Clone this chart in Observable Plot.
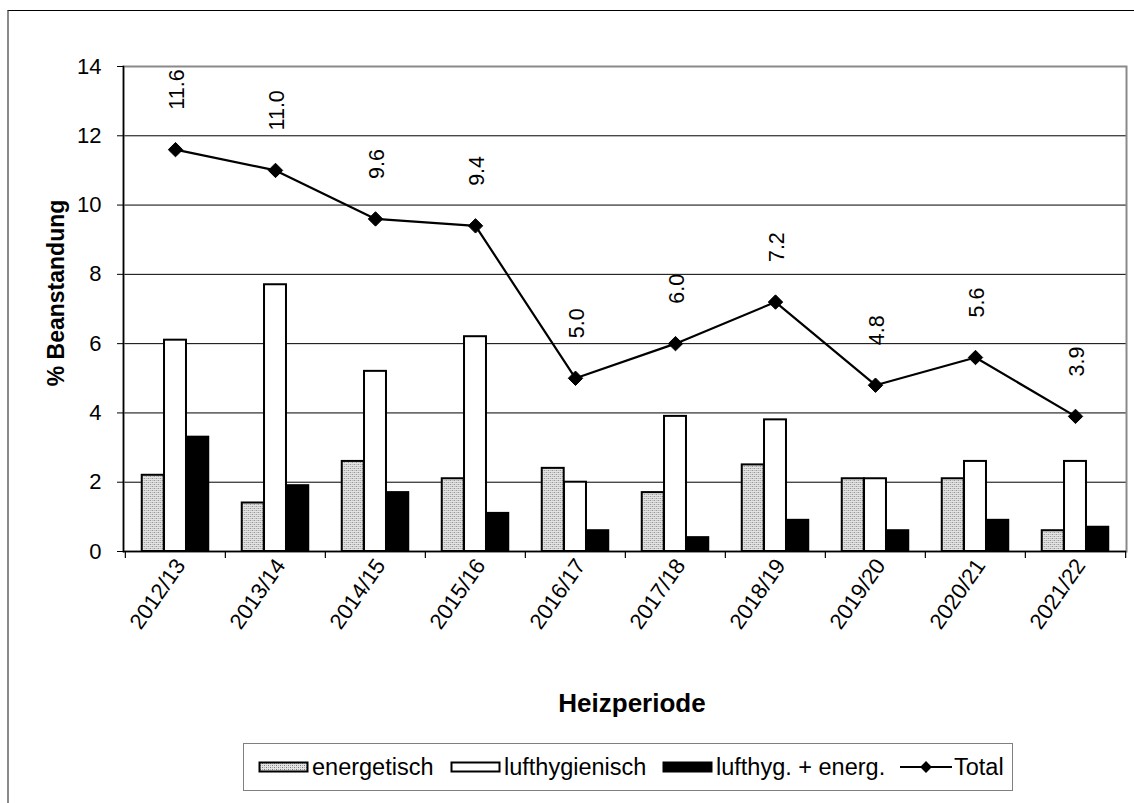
<!DOCTYPE html>
<html>
<head>
<meta charset="utf-8">
<script src="https://cdn.jsdelivr.net/npm/d3@7"></script>
<script src="https://cdn.jsdelivr.net/npm/@observablehq/plot@0.6"></script>
<style>
  html, body { margin: 0; padding: 0; background: #fff; }
  body { font-family: Arial, "Liberation Sans", sans-serif; }
  #wrap { position: relative; width: 1134px; height: 803px; overflow: hidden; background: #fff; }
  #frame { position: absolute; left: 7px; top: 10px; width: 1200px; height: 900px;
           border-left: 2px solid #8a8a8a; border-top: 1px solid #000; box-sizing: border-box; }
  #chart { position: absolute; left: 0; top: 0; }
  #legend { position: absolute; left: 243px; top: 743px; width: 770px; height: 48px;
            border: 1px solid #808080; box-sizing: border-box; background: #fff;
            font-size: 23.5px; color: #000; white-space: nowrap; }
  #legend .item { position: absolute; top: 0; height: 46px; display: flex; align-items: center; }
  #legend svg { display: block; }
</style>
</head>
<body>
<div id="wrap">
  <div id="frame"></div>
  <div id="chart"></div>
  <div id="legend"></div>
</div>
<script>
// ---- data ----
const periods = ["2012/13", "2013/14", "2014/15", "2015/16", "2016/17", "2017/18", "2018/19", "2019/20", "2020/21", "2021/22"];
const energetisch = [2.2, 1.4, 2.6, 2.1, 2.4, 1.7, 2.5, 2.1, 2.1, 0.6];
const lufthygienisch = [6.1, 7.7, 5.2, 6.2, 2.0, 3.9, 3.8, 2.1, 2.6, 2.6];
const kombiniert = [3.3, 1.9, 1.7, 1.1, 0.6, 0.4, 0.9, 0.6, 0.9, 0.7];
const total = [11.6, 11.0, 9.6, 9.4, 5.0, 6.0, 7.2, 4.8, 5.6, 3.9];
const seriesNames = ["energetisch", "lufthygienisch", "lufthyg. + energ.", "Total"];
const yTicks = [0, 2, 4, 6, 8, 10, 12, 14];
const yTitle = "% Beanstandung";
const xTitle = "Heizperiode";

// ---- layout ----
const W = 1134, H = 720;
const mL = 123, mR = 8, mT = 66, mB = H - 551;
const step = (W - mL - mR) / periods.length;
const barW = step * 0.222;
const inset = (step - barW) / 2;

const rows = (arr) => periods.map((p, i) => ({period: p, value: arr[i]}));
const eRows = rows(energetisch), lRows = rows(lufthygienisch), kRows = rows(kombiniert), tRows = rows(total);

const font = "Arial, 'Liberation Sans', sans-serif";

const chart = Plot.plot({
  width: W,
  height: H,
  marginLeft: mL,
  marginRight: mR,
  marginTop: mT,
  marginBottom: mB,
  style: {fontFamily: font, background: "transparent", color: "#000", overflow: "visible"},
  x: {type: "band", domain: periods, padding: 0, label: null},
  y: {domain: [0, 14], label: null},
  marks: [
    Plot.gridY(yTicks.filter(t => t > 0 && t < 14), {stroke: "#000", strokeOpacity: 1, strokeWidth: 1}),
    Plot.frame({stroke: "#8a8a8a", strokeWidth: 2}),
    Plot.frame({anchor: "left", stroke: "#000", strokeWidth: 1.5}),
    // bars
    Plot.barY(eRows, {x: "period", y: "value", fill: "url(#stipple)", stroke: "#000", strokeWidth: 2,
      insetLeft: inset, insetRight: inset, dx: -barW}),
    Plot.barY(lRows, {x: "period", y: "value", fill: "#fff", stroke: "#000", strokeWidth: 2,
      insetLeft: inset, insetRight: inset, dx: 0}),
    Plot.barY(kRows, {x: "period", y: "value", fill: "#000", stroke: "#000", strokeWidth: 2,
      insetLeft: inset, insetRight: inset, dx: barW}),
    Plot.ruleY([0], {stroke: "#000", strokeWidth: 1.5}),
    // x ticks at category boundaries
    Plot.ruleX(periods, {x: d => d, y1: 0, y2: 0, insetBottom: -7, dx: -step / 2, stroke: "#000", strokeWidth: 1.2}),
    Plot.ruleX(periods.slice(-1), {x: d => d, y1: 0, y2: 0, insetBottom: -7, dx: step / 2, stroke: "#000", strokeWidth: 1.2}),
    // total line
    Plot.line(tRows, {x: "period", y: "value", stroke: "#000", strokeWidth: 2.2}),
    Plot.dot(tRows, {x: "period", y: "value", symbol: "diamond2", r: 6.5, fill: "#000", stroke: "#000", strokeWidth: 1}),
    Plot.text(tRows, {x: "period", y: "value", text: d => d.value.toFixed(1), rotate: -90,
      textAnchor: "start", lineAnchor: "middle", dy: -40, dx: 2, fontSize: 21.5, fill: "#000"}),
    // axes
    Plot.axisY({ticks: yTicks, tickSize: 6, tickPadding: 16, fontSize: 22, label: null, stroke: "#000"}),
    Plot.axisX({tickSize: 0, tickRotate: -55, tickPadding: 10, dx: 5, fontSize: 22, label: null}),
    // titles
    Plot.text([yTitle], {text: d => d, frameAnchor: "left", textAnchor: "middle", rotate: -90, dx: -67, dy: -16,
      fontWeight: "bold", fontSize: 23, fill: "#000"}),
    Plot.text([xTitle], {text: d => d, frameAnchor: "bottom", dy: 160, dx: 7, lineAnchor: "bottom",
      fontWeight: "bold", fontSize: 26, fill: "#000"})
  ]
});

// stipple pattern for "energetisch"
const defs = d3.select(chart).insert("defs", ":first-child");
const pat = defs.append("pattern").attr("id", "stipple").attr("patternUnits", "userSpaceOnUse")
  .attr("width", 4).attr("height", 4);
pat.append("rect").attr("width", 4).attr("height", 4).attr("fill", "#e4e4e4");
pat.append("rect").attr("x", 0).attr("y", 0).attr("width", 1).attr("height", 1).attr("fill", "#7a7a7a");
pat.append("rect").attr("x", 2).attr("y", 2).attr("width", 1).attr("height", 1).attr("fill", "#7a7a7a");
pat.append("rect").attr("x", 2).attr("y", 0).attr("width", 1).attr("height", 1).attr("fill", "#b0b0b0");
pat.append("rect").attr("x", 0).attr("y", 2).attr("width", 1).attr("height", 1).attr("fill", "#b0b0b0");
document.getElementById("chart").appendChild(chart);

// ---- legend ----
const legend = d3.select("#legend");
const swatches = [
  {name: seriesNames[0], kind: "bar", fill: "url(#stipple)", left: 14},
  {name: seriesNames[1], kind: "bar", fill: "#fff", left: 206},
  {name: seriesNames[2], kind: "bar", fill: "#000", left: 418},
  {name: seriesNames[3], kind: "line", left: 656}
];
swatches.forEach((s) => {
  const it = legend.append("div").attr("class", "item").style("left", s.left + "px");
  const sv = it.append("svg").attr("width", 52).attr("height", 16);
  if (s.kind === "bar") {
    sv.append("rect").attr("x", 1.5).attr("y", 3.5).attr("width", 48).attr("height", 9)
      .attr("fill", s.fill).attr("stroke", "#000").attr("stroke-width", 2);
  } else {
    sv.append("line").attr("x1", 0).attr("x2", 52).attr("y1", 8).attr("y2", 8)
      .attr("stroke", "#000").attr("stroke-width", 2);
    sv.append("path").attr("d", d3.symbol(d3.symbolDiamond2, 90)()).attr("transform", "translate(26,8)").attr("fill", "#000");
  }
  it.append("span").text(s.name).style("margin-left", "2px");
});
</script>
</body>
</html>
